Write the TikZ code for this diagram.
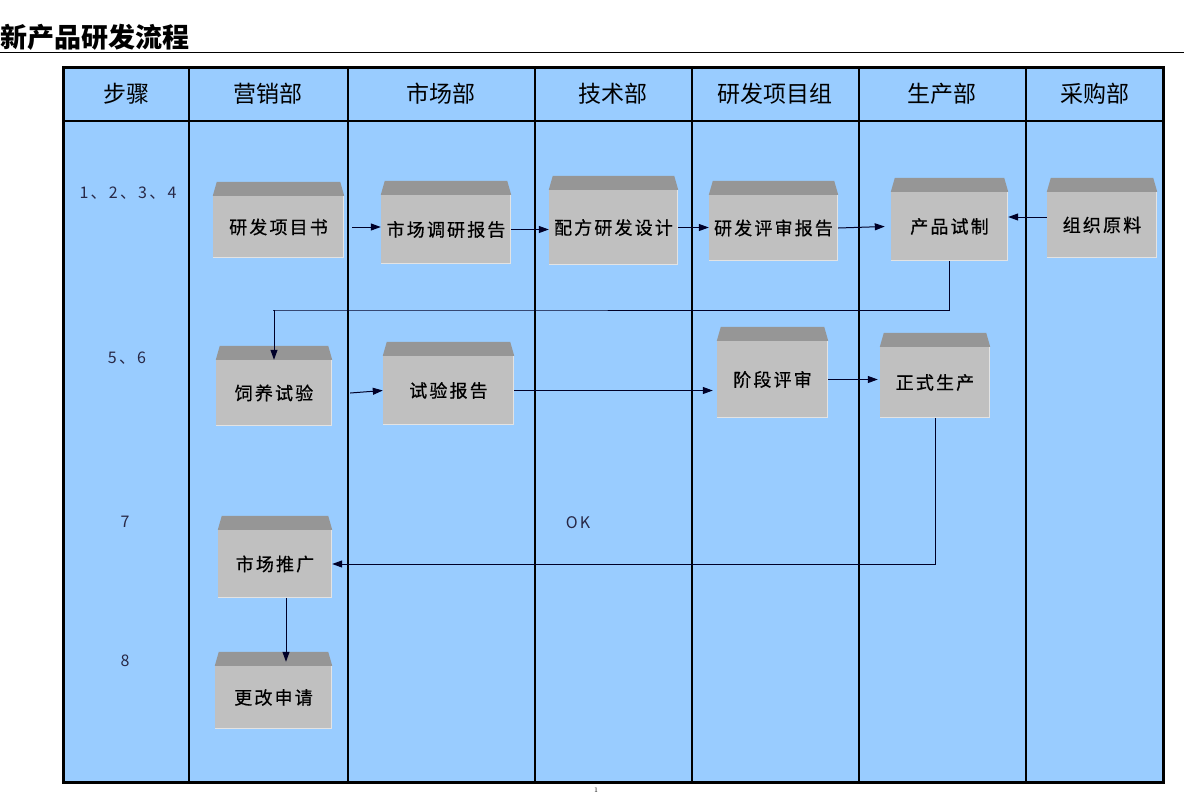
\documentclass[tikz,border=0pt]{standalone}
\usepackage{fontspec}
\usepackage{tikz}
\usetikzlibrary{arrows.meta, calc}
\newfontfamily\cjk{Noto Sans CJK SC}
\newfontfamily\cjkbox[LetterSpace=12, FakeBold=0.6]{Noto Sans CJK SC}
\newfontfamily\cjkstep[LetterSpace=14]{Noto Sans CJK SC}
\definecolor{lane}{RGB}{153, 204, 255}
\definecolor{boxgray}{RGB}{192, 192, 192}
\definecolor{bevel}{RGB}{150, 150, 150}
\definecolor{flowline}{RGB}{0, 0, 40}
\definecolor{steptext}{RGB}{40, 40, 70}
\tikzset{
  lanehead/.style={font=\cjk\fontsize{23}{23}\selectfont},
  steplbl/.style={font=\cjkstep\fontsize{16}{16}\selectfont, text=steptext},
  proc/.style={fill=boxgray, inner sep=0pt, font=\cjkbox\fontsize{18}{18}\selectfont},
  flow/.style={draw=flowline, line width=1pt, -{Triangle[length=10pt, width=7pt]}},
}

\begin{document}
\begin{tikzpicture}[x=1pt, y=-1pt]
  \useasboundingbox (0,0) rectangle (1184,793);

  % title
  \node[anchor=base west, inner sep=0pt, font=\cjk\bfseries\fontsize{27}{27}\selectfont] (title) at (0,47) {新产品研发流程};
  \draw[line width=1pt] (0,52) -- (1184,52);

  % lanes
  \fill[lane] (63,67) rectangle (1163,782);
  \foreach \x in {189,348,535,692,859,1026}
    \draw[line width=1.3pt] (\x,67) -- (\x,782);
  \draw[line width=1.3pt] (63,121) -- (1163,121);
  \draw[line width=3pt] (63,67) rectangle (1163,782);

  \foreach \x/\t [count=\i] in {126/步骤, 268/营销部, 441/市场部, 613/技术部, 775/研发项目组, 942/生产部, 1095/采购部}
    \node[lanehead] (head\i) at (\x,94) {\t};

  % steps
  \node[steplbl] (step1) at (128,193) {1、2、3、4};
  \node[steplbl] (step2) at (127,358) {5、6};
  \node[steplbl] (step3) at (125,522) {7};
  \node[steplbl] (step4) at (125,661) {8};
  \node[steplbl] (ok) at (578,523) {OK};

  % boxes
  \node[proc, minimum width=131pt, minimum height=62pt] (rd) at (278.5,227) {研发项目书};
  \node[proc, minimum width=130pt, minimum height=69pt] (mr) at (446,229.5) {市场调研报告};
  \node[proc, minimum width=129pt, minimum height=75pt] (fd) at (613.5,227.5) {配方研发设计};
  \node[proc, minimum width=129pt, minimum height=66pt] (rv) at (773.5,228) {研发评审报告};
  \node[proc, minimum width=117pt, minimum height=69pt] (pt) at (949.5,226.5) {产品试制};
  \node[proc, minimum width=110pt, minimum height=66pt] (mt) at (1102,225) {组织原料};
  \node[proc, minimum width=116pt, minimum height=66pt] (ft) at (274,393) {饲养试验};
  \node[proc, minimum width=131pt, minimum height=69pt] (tr) at (448.5,390.5) {试验报告};
  \node[proc, minimum width=111pt, minimum height=77pt] (sr) at (772.5,379.5) {阶段评审};
  \node[proc, minimum width=110pt, minimum height=71pt] (mp) at (935,382.5) {正式生产};
  \node[proc, minimum width=114pt, minimum height=68pt] (pr) at (275,564) {市场推广};
  \node[proc, minimum width=117pt, minimum height=63pt] (cr) at (273.5,697.5) {更改申请};

  \foreach \n in {rd,mr,fd,rv,pt,mt,ft,tr,sr,mp,pr,cr} {
    \fill[bevel] (\n.north west) -- ([xshift=4pt, yshift=14pt]\n.north west)
      -- ([xshift=-4pt, yshift=14pt]\n.north east) -- (\n.north east) -- cycle;
    \draw[white!55!boxgray, line width=1.5pt] ([xshift=-0.75pt]\n.north east)
      -- ([xshift=-0.75pt, yshift=0.75pt]\n.south east) -- ([yshift=0.75pt]\n.south west);
  }

  % flow
  \coordinate (bend1) at (273,310);
  \draw[flow] ([xshift=8pt]rd.east) -- (mr.west |- rd.east);
  \draw[flow] (mr.east) -- (fd.west |- mr.east);
  \draw[flow] (fd.east) -- (rv.west |- fd.east);
  \draw[flow] (rv.east) -- ([xshift=-6pt]pt.west);
  \draw[flow] ([yshift=8pt]mt.west) -- ([yshift=8pt]mt.west -| pt.east);
  \draw[flow] (pt.south) |- (bend1) -| (ft.north);
  \draw[flow] ([xshift=18pt]ft.east) -- (tr.west);
  \draw[flow] (tr.east) -- ([xshift=-4pt]sr.west |- tr.east);
  \draw[flow] (sr.east) -- ([xshift=-2pt]mp.west |- sr.east);
  \draw[flow] (mp.south) |- (pr.east);
  \draw[flow] ([xshift=11pt]pr.south) -- ([xshift=11pt, yshift=4pt]pr.south |- cr.north);

  \node[font=\fontsize{7}{7}\selectfont] (page) at (596,790) {1};
\end{tikzpicture}
\end{document}
